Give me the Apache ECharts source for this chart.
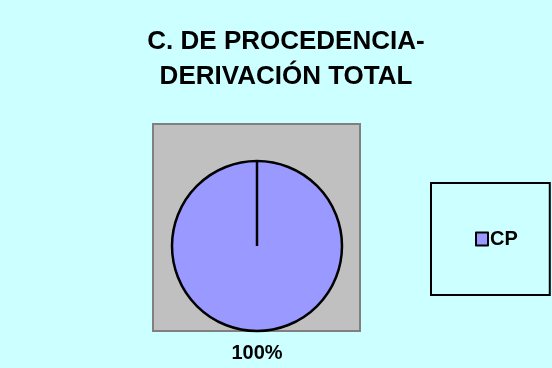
<!DOCTYPE html>
<html>
<head>
<meta charset="utf-8">
<script src="https://cdn.jsdelivr.net/npm/echarts@6/dist/echarts.min.js"></script>
<style>
  html, body { margin: 0; padding: 0; }
  #chart { width: 552px; height: 368px; }
</style>
</head>
<body>
<div id="chart"></div>
<script>
var categories = ["CP"];
var values = [100];

var cx = 257, cy = 246, r = 85;

var chart = echarts.init(document.getElementById("chart"));

var option = {
  backgroundColor: "#CCFFFF",
  animation: false,
  title: {
    text: "C. DE PROCEDENCIA-\nDERIVACIÓN TOTAL",
    left: 281,
    top: 19,
    textAlign: "center",
    textStyle: {
      fontFamily: "Liberation Sans",
      fontWeight: "bold",
      fontSize: 26,
      lineHeight: 35,
      color: "#000",
    },
  },
  legend: {
    data: categories,
    left: 431,
    top: 183,
    orient: "vertical",
    icon: "rect",
    itemWidth: 12,
    itemHeight: 13,
    itemGap: 0,
    padding: [46, 32, 46, 44],
    borderColor: "#000",
    borderWidth: 2,
    textStyle: {
      fontFamily: "Liberation Sans",
      fontWeight: "bold",
      fontSize: 20,
      color: "#000",
      padding: [0, 0, 0, -3],
    },
    itemStyle: {
      borderColor: "#000",
      borderWidth: 2,
    },
  },
  graphic: [
    {
      type: "rect",
      z: -1,
      shape: { x: 153, y: 124, width: 207, height: 207 },
      style: { fill: "#C0C0C0", stroke: "#808080", lineWidth: 2 },
    },
    {
      type: "line",
      z: 100,
      shape: { x1: cx, y1: cy, x2: cx, y2: cy - r },
      style: { stroke: "#000", lineWidth: 2.5 },
    },
  ],
  series: [
    {
      type: "pie",
      center: [cx, cy],
      radius: r,
      startAngle: 90,
      clockwise: true,
      data: categories.map(function (c, i) {
        return { name: c, value: values[i] };
      }),
      itemStyle: {
        color: "#9999FF",
        borderColor: "#000",
        borderWidth: 2.5,
      },
      label: {
        show: true,
        position: "outside",
        formatter: "{d}%",
        fontFamily: "Liberation Sans",
        fontWeight: "bold",
        fontSize: 20,
        color: "#000",
      },
      labelLine: { show: false },
      labelLayout: function (params) {
        return {
          x: params.rect.x + params.rect.width / 2,
          y: params.rect.y + params.rect.height + 21,
          align: "center",
          verticalAlign: "middle",
        };
      },
      emphasis: { disabled: true },
    },
  ],
};

chart.setOption(option);
</script>
</body>
</html>
